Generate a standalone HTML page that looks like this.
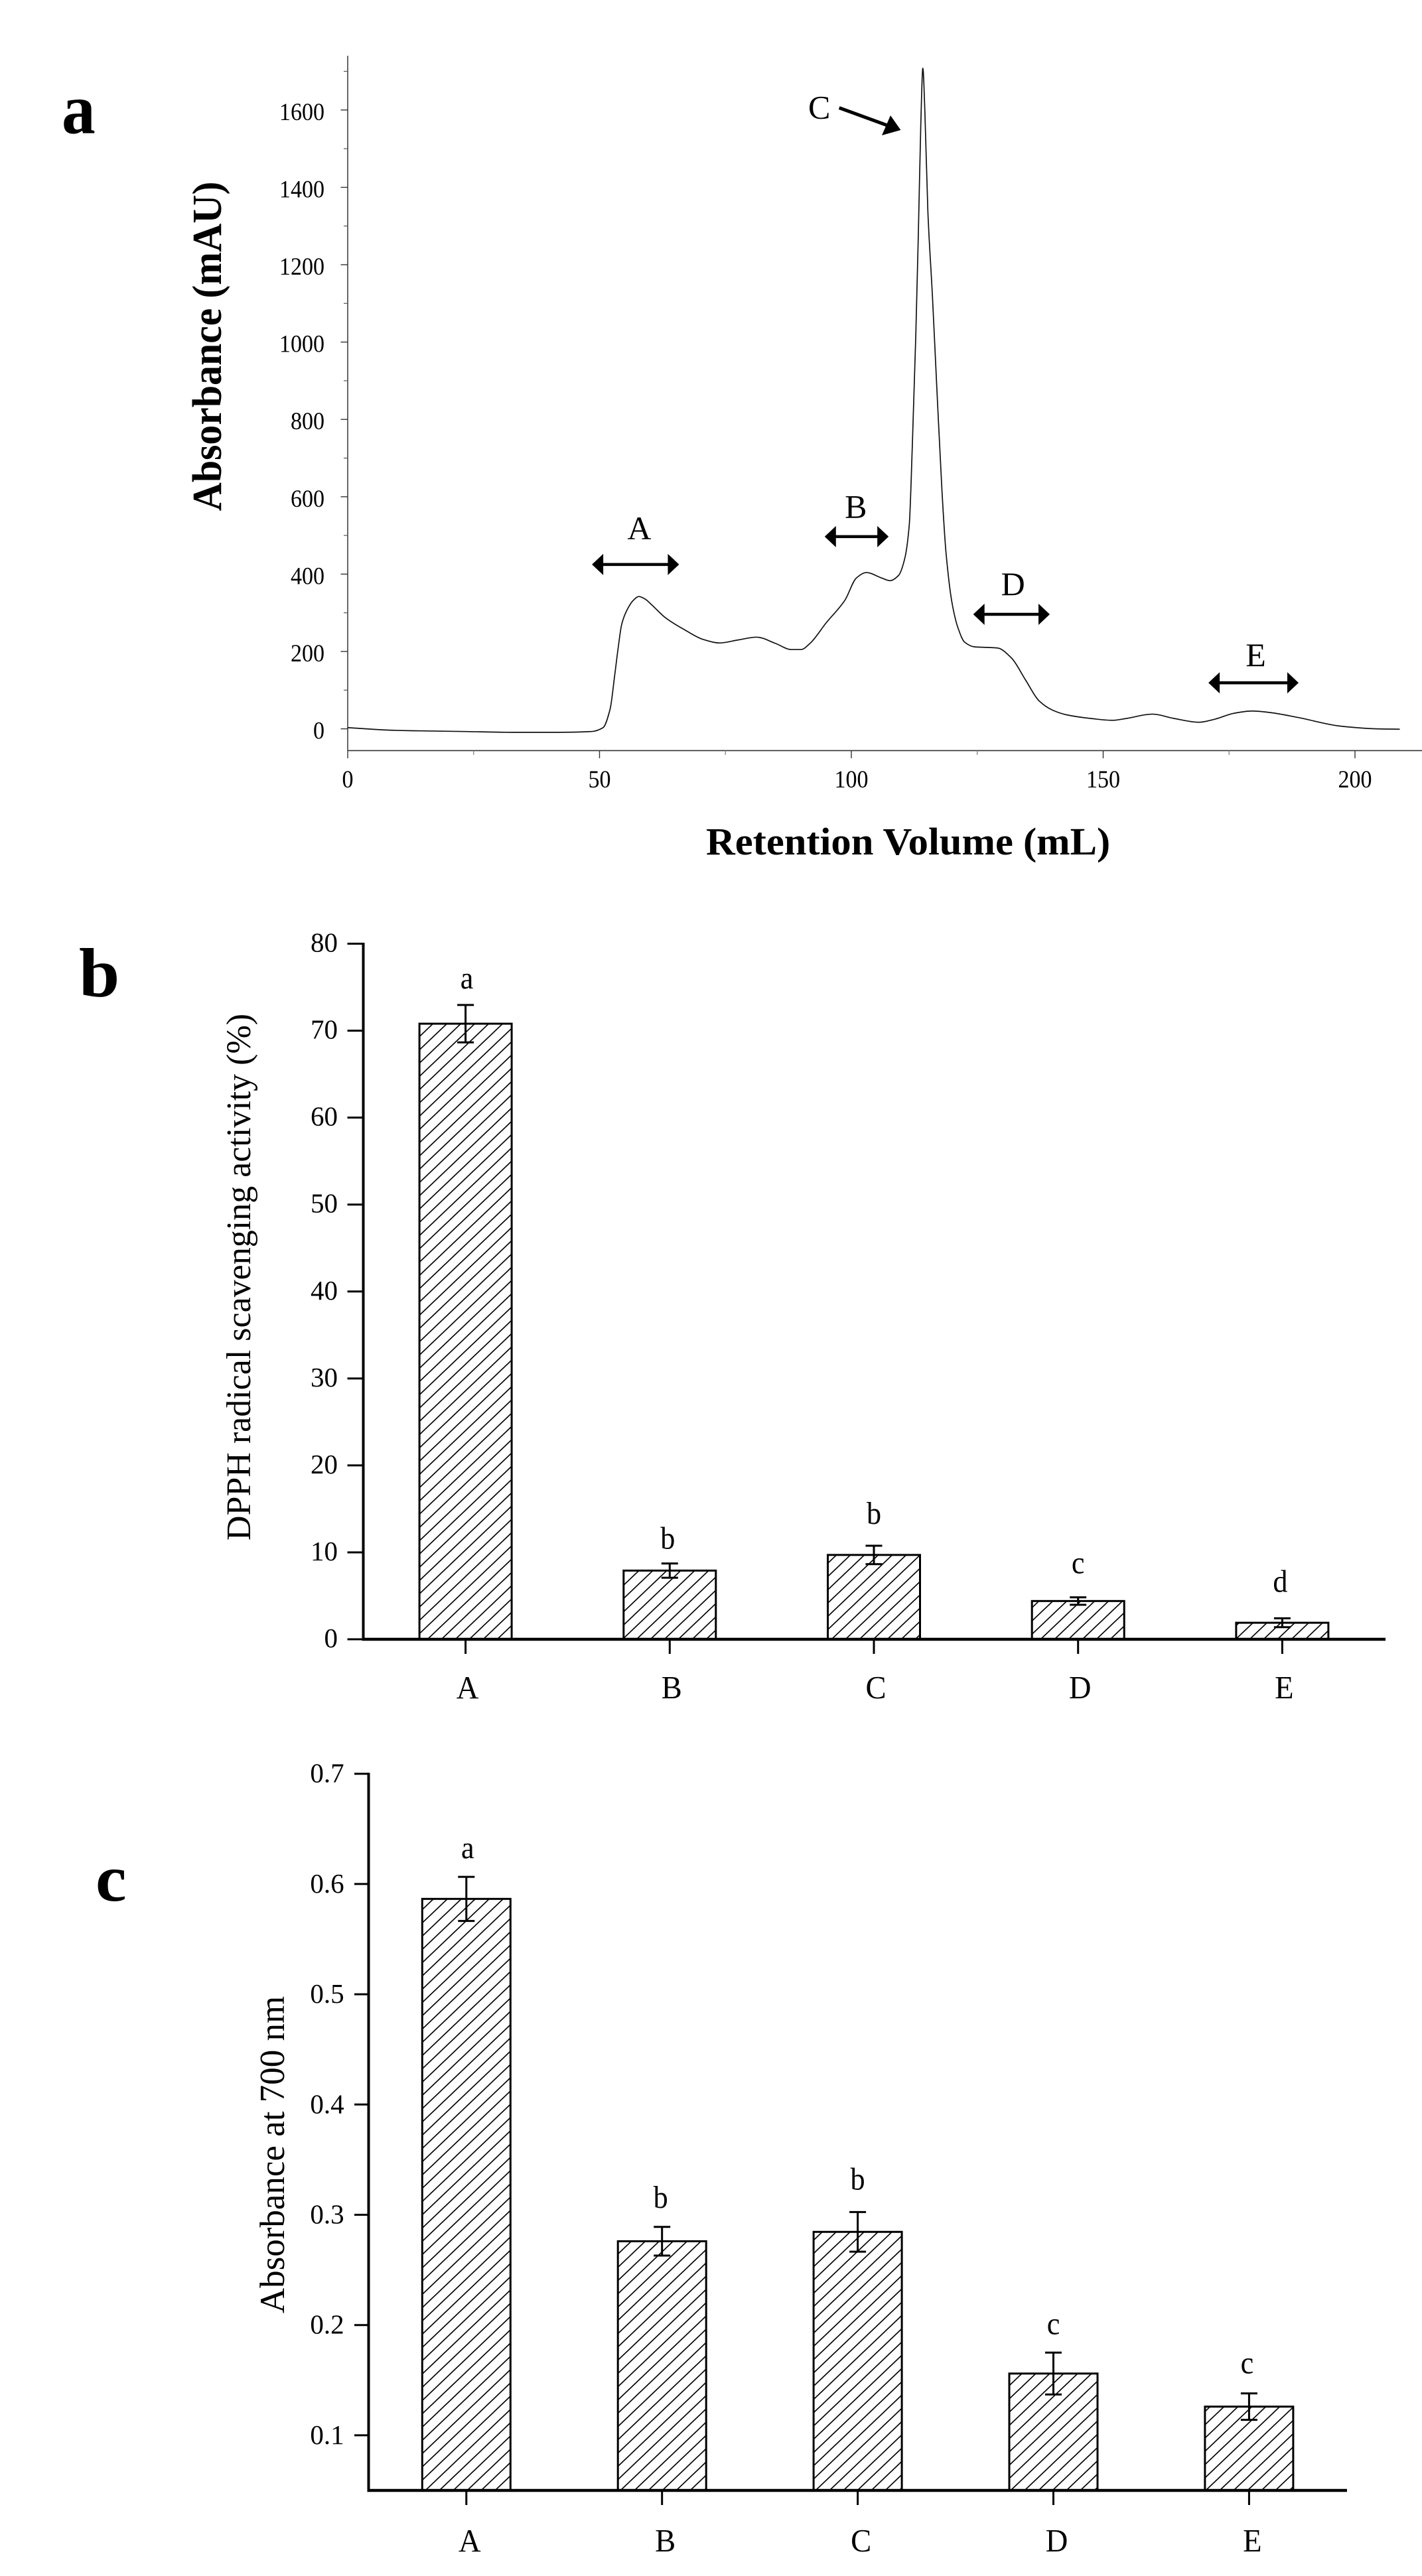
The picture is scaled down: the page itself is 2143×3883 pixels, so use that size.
<!DOCTYPE html>
<html lang="en">
<head>
<meta charset="utf-8">
<title>Chromatogram and antioxidant activity of fractions A to E</title>
<style>
html,body{margin:0;padding:0;background:#fff;}
svg{display:block;}
text{font-family:"Liberation Serif",serif;fill:#000;}
</style>
</head>
<body>
<svg id="figure" xmlns="http://www.w3.org/2000/svg" width="2143" height="3883" viewBox="0 0 2143 3883">
  <rect width="2143" height="3883" fill="#fff"/>
  <defs>
    <pattern id="hatch" patternUnits="userSpaceOnUse" width="21" height="20" patternTransform="translate(0,4.56)">
      <path d="M0 20L21 0M-5.25 5L5.25 -5M15.75 25L26.25 15" stroke="#000" stroke-width="1.7" fill="none"/>
    </pattern>
  </defs>
</svg>
<script>
/* Panel a data */
var chromVolume = [0,9.5,23.4,32.6,41.9,48.4,50.7,52.1,53,53.7,54.4,55.3,56.7,57.8,59,60.4,63.2,66.9,70.6,73.9,77.6,81.2,84.9,88.1,90,91.8,95,98.7,101,103,106,107.7,109.4,110.6,111.5,112.1,112.8,113.3,113.8,114.2,114.6,115.2,116.1,117,118,118.8,120,121.2,122.5,124.4,129,131.8,134.6,137.3,140,142.8,147.4,151.9,154.7,159.8,164,169,172.2,175.9,179.6,183.2,188.8,197.1,204.3,208.9];
var chromAbsorbance = [3,-4,-7,-9,-9,-7,3,51,137,209,270,303,332,342,336,320,286,256,231,222,230,237,221,205,205,221,274,332,390,404,390,383,397,440,527,729,1018,1278,1567,1708,1596,1336,1119,874,614,455,325,260,224,212,209,183,126,72,48,36,27,22,27,38,27,17,25,40,46,42,29,7,0,-1];
var chromYMajorTicks = [0,200,400,600,800,1000,1200,1400,1600];
var chromYMinorTicks = [100,300,500,700,900,1100,1300,1500,1700];
var chromXMajorTicks = [0,50,100,150,200];
var chromXMinorTicks = [25,75,125,175];
var regionNames = ["A","B","D","E"];
var regionStart = [48.5,94.7,124.2,170.9];
var regionEnd = [65.8,107.4,139.4,188.8];
var regionLevel = [425,497,296,119];
var regionLabelVolume = [57.9,100.9,132.1,180.3];
var regionLabelLevel = [490,546,346,162];

/* Panel b data */
var dpphCategories = ["A","B","C","D","E"];
var dpphValues = [70.8,7.9,9.7,4.4,1.9];
var dpphErrors = [2.15,0.82,1.06,0.43,0.51];
var dpphLetters = ["a","b","b","c","d"];
var dpphTicks = [0,10,20,30,40,50,60,70,80];

/* Panel c data */
var powerCategories = ["A","B","C","D","E"];
var powerValues = [0.5865,0.276,0.2845,0.156,0.126];
var powerErrors = [0.02,0.013,0.018,0.019,0.012];
var powerLetters = ["a","b","b","c","c"];
var powerTicks = [0.1,0.2,0.3,0.4,0.5,0.6,0.7];

var svg = document.getElementById('figure');
var NS = 'http://www.w3.org/2000/svg';

function mk(tag, attrs, name, parent) {
  var el = document.createElementNS(NS, tag);
  for (var k in attrs) { el.setAttribute(k, attrs[k]); }
  
  
  (parent || svg).appendChild(el);
  return el;
}
function line(x1, y1, x2, y2, w, color, name, parent) {
  return mk('line', {x1:x1, y1:y1, x2:x2, y2:y2, stroke:color, 'stroke-width':w}, name, parent);
}
function txt(x, y, s, size, sx, anchor, weight, rot, name, parent) {
  var t = 'translate(' + x + ',' + y + ')' + (rot ? ' rotate(-90)' : '') + ' scale(' + sx + ',1)';
  var el = mk('text', {transform:t, 'font-size':size, 'text-anchor':anchor, 'font-weight':weight}, name, parent);
  el.textContent = s;
  return el;
}
function group(name) { return mk('g', {}, name); }

/* Monotone cubic path through the given points, so the curve never overshoots the data */
function monotonePath(xs, ys) {
  var n = xs.length, d = [], m = [], i;
  for (i = 0; i < n - 1; i++) { d[i] = (ys[i + 1] - ys[i]) / (xs[i + 1] - xs[i]); }
  m[0] = d[0];
  m[n - 1] = d[n - 2];
  for (i = 1; i < n - 1; i++) {
    m[i] = d[i - 1] * d[i] <= 0 ? 0 : 2 * d[i - 1] * d[i] / (d[i - 1] + d[i]);
  }
  var p = 'M' + xs[0].toFixed(2) + ' ' + ys[0].toFixed(2);
  for (i = 0; i < n - 1; i++) {
    var h = (xs[i + 1] - xs[i]) / 3;
    p += 'C' + (xs[i] + h).toFixed(2) + ' ' + (ys[i] + m[i] * h).toFixed(2) + ' ' +
         (xs[i + 1] - h).toFixed(2) + ' ' + (ys[i + 1] - m[i + 1] * h).toFixed(2) + ' ' +
         xs[i + 1].toFixed(2) + ' ' + ys[i + 1].toFixed(2);
  }
  return p;
}

/* ---------- Panel a ---------- */
var ax = function (v) { return 524 + v * 7.59; };
var ay = function (v) { return 1098.6 - v * 0.583; };
var gA = group('chromatogram-panel');
txt(93, 200.5, 'a', 108, 0.94, 'start', 'bold', false, 'panel-label-a', gA);
line(524, 84, 524, 1131.4, 1.5, '#333', 'y-axis-line', gA);
line(524, 1131.4, 2143, 1131.4, 1.6, '#333', 'x-axis-line', gA);
chromYMajorTicks.forEach(function (v) {
  line(513.5, ay(v), 524, ay(v), 1.4, '#333', 'y-major-tick', gA);
  txt(489, ay(v) + 15, String(v), 37, 0.92, 'end', 'normal', false, 'y-tick-label', gA);
});
chromYMinorTicks.forEach(function (v) {
  line(518, ay(v), 524, ay(v), 1.2, '#555', 'y-minor-tick', gA);
});
chromXMajorTicks.forEach(function (v) {
  line(ax(v), 1131.4, ax(v), 1143, 1.4, '#333', 'x-major-tick', gA);
  txt(ax(v), 1187, String(v), 37, 0.92, 'middle', 'normal', false, 'x-tick-label', gA);
});
chromXMinorTicks.forEach(function (v) {
  line(ax(v), 1131.4, ax(v), 1138, 1.2, '#777', 'x-minor-tick', gA);
});
txt(333, 522, 'Absorbance (mAU)', 62, 0.965, 'middle', 'bold', true, 'y-axis-title', gA);
txt(1064, 1288, 'Retention Volume (mL)', 58, 1.045, 'start', 'bold', false, 'x-axis-title', gA);
mk('path', {d:monotonePath(chromVolume.map(ax), chromAbsorbance.map(ay)), fill:'none', stroke:'#111', 'stroke-width':1.7, 'stroke-linejoin':'round'}, 'absorbance-curve', gA);

regionNames.forEach(function (n, i) {
  var x1 = ax(regionStart[i]), x2 = ax(regionEnd[i]), y = ay(regionLevel[i]);
  line(x1 + 10, y, x2 - 10, y, 4.5, '#000', 'region-' + n + '-arrow-shaft', gA);
  mk('polygon', {points:x1 + ',' + y + ' ' + (x1 + 17) + ',' + (y - 16) + ' ' + (x1 + 17) + ',' + (y + 16), fill:'#000'}, 'region-' + n + '-arrow-head-left', gA);
  mk('polygon', {points:x2 + ',' + y + ' ' + (x2 - 17) + ',' + (y - 16) + ' ' + (x2 - 17) + ',' + (y + 16), fill:'#000'}, 'region-' + n + '-arrow-head-right', gA);
  txt(ax(regionLabelVolume[i]), ay(regionLabelLevel[i]), n, 50, 1, 'middle', 'normal', false, 'region-' + n + '-label', gA);
});
txt(1234.7, 178.5, 'C', 50, 1, 'middle', 'normal', false, 'region-C-label', gA);
line(1264.7, 162.5, 1340, 190, 5, '#000', 'region-C-arrow-shaft', gA);
mk('polygon', {points:'1357.4,196 1329,204 1342,174', fill:'#000'}, 'region-C-arrow-head', gA);

/* ---------- Bar chart builder ---------- */
function barChart(cfg) {
  var g = group(cfg.name);
  var sy = function (v) { return cfg.y0 - (v - cfg.base) * cfg.pxPerUnit; };
  var sx = function (i) { return cfg.x0 + i * cfg.step; };
  line(cfg.axisX, sy(cfg.top) - 1.5, cfg.axisX, cfg.y0 + 2, 4, '#000', 'y-axis-line', g);
  cfg.ticks.forEach(function (v) {
    line(cfg.axisX - cfg.tickLen, sy(v), cfg.axisX, sy(v), 3, '#000', 'y-tick', g);
    txt(cfg.labelRight, sy(v) + cfg.labelDy, cfg.fmt(v), 41, 1, 'end', 'normal', false, 'y-tick-label', g);
  });
  cfg.values.forEach(function (v, i) {
    var c = sx(i);
    mk('rect', {x:c - cfg.barW / 2, y:sy(v), width:cfg.barW, height:cfg.y0 - sy(v), fill:'url(#hatch)', stroke:'#000', 'stroke-width':3}, 'bar-' + cfg.cats[i], g);
  });
  line(cfg.axisX - 2, cfg.y0, cfg.axisRight, cfg.y0, 4.5, '#000', 'x-axis-line', g);
  cfg.values.forEach(function (v, i) {
    var c = sx(i), hi = sy(v + cfg.errors[i]), lo = sy(v - cfg.errors[i]);
    line(c, hi, c, lo, 3, '#000', 'error-bar-' + cfg.cats[i], g);
    line(c - 12.5, hi, c + 12.5, hi, 3, '#000', 'error-cap-top-' + cfg.cats[i], g);
    line(c - 12.5, lo, c + 12.5, lo, 3, '#000', 'error-cap-bottom-' + cfg.cats[i], g);
    line(c, cfg.y0, c, cfg.y0 + 22, 3, '#000', 'x-tick', g);
    txt(c + cfg.catDx, cfg.catY, cfg.cats[i], 49, 0.95, 'middle', 'normal', false, 'x-tick-label', g);
    txt(c + cfg.letterDx[i], hi - cfg.letterGap[i], cfg.letters[i], 48, 0.92, 'middle', 'normal', false, 'significance-letter-' + cfg.cats[i], g);
  });
  txt(cfg.titleX, cfg.titleY, cfg.title, cfg.titleSize, 1, 'middle', 'normal', true, 'y-axis-title', g);
}

/* ---------- Panel b ---------- */
txt(119, 1502, 'b', 105, 1.05, 'start', 'bold', false, 'panel-label-b');
barChart({
  name:'dpph-chart', cats:dpphCategories, values:dpphValues, errors:dpphErrors, letters:dpphLetters, ticks:dpphTicks,
  base:0, top:80, y0:2471, pxPerUnit:13.106, axisX:547.5, axisRight:2088, tickLen:24,
  x0:701.6, step:307.7, barW:139, labelRight:509, labelDy:12, catDx:3, catY:2560,
  letterGap:[25,22,33,36,40], letterDx:[2,-3,0,0,-3],
  fmt:function (v) { return String(v); },
  title:'DPPH radical scavenging activity (%)', titleX:377, titleY:1925, titleSize:52
});

/* ---------- Panel c ---------- */
txt(144, 2865, 'c', 100, 1.05, 'start', 'bold', false, 'panel-label-c');
barChart({
  name:'reducing-power-chart', cats:powerCategories, values:powerValues, errors:powerErrors, letters:powerLetters, ticks:powerTicks,
  base:0.05, top:0.7, y0:3754, pxPerUnit:1662, axisX:555.5, axisRight:2030, tickLen:21.5,
  x0:702.8, step:294.9, barW:133, labelRight:518.6, labelDy:13, catDx:5, catY:3846,
  letterGap:[28,29,34,28,30], letterDx:[2,-2,0,0,-3],
  fmt:function (v) { return v.toFixed(1); },
  title:'Absorbance at 700 nm', titleX:428, titleY:3248, titleSize:53
});
</script>
</body>
</html>
